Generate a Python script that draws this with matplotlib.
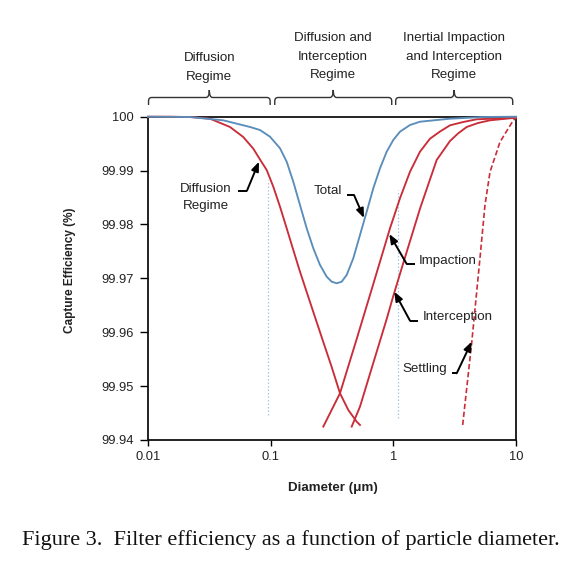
import matplotlib
matplotlib.use('Agg')
import matplotlib.pyplot as plt
from matplotlib import font_manager
from matplotlib.path import Path
from matplotlib.patches import PathPatch
import numpy as np

# ---------------- data ----------------
x_ticks = [0.01, 0.1, 1, 10]
x_tick_labels = ['0.01', '0.1', '1', '10']
y_ticks = [99.94, 99.95, 99.96, 99.97, 99.98, 99.99, 100.0]
y_tick_labels = ['99.94', '99.95', '99.96', '99.97', '99.98', '99.99', '100']

diffusion_d = [0.01, 0.015, 0.022, 0.032, 0.0466, 0.0598, 0.0722, 0.08185, 0.09281,
               0.10505, 0.11914, 0.13509, 0.15291, 0.17339, 0.19665, 0.22262, 0.26853,
               0.31434, 0.36739, 0.42943, 0.50269, 0.53483]
diffusion_eff = [100.0, 100.0, 99.99994, 99.99963, 99.99809, 99.99623, 99.99406, 99.99206,
                 99.99011, 99.98701, 99.98330, 99.97929, 99.97526, 99.97124, 99.96747,
                 99.96376, 99.95819, 99.95355, 99.94867, 99.94557, 99.94340, 99.94279]

total_d = [0.01, 0.022, 0.0411, 0.06785, 0.08185, 0.09874, 0.11914, 0.13509, 0.15291,
           0.17339, 0.19665, 0.22262, 0.25246, 0.28622, 0.31434, 0.34532, 0.37931, 0.41667,
           0.47162, 0.53483, 0.60659, 0.68644, 0.77858, 0.88288, 0.99931, 1.1331, 1.3675,
           1.6495, 2.8968, 5.3815, 10.0]
total_eff = [100.0, 99.99994, 99.99933, 99.99809, 99.99753, 99.99629, 99.99414, 99.99165,
             99.98794, 99.98361, 99.97929, 99.97558, 99.97248, 99.97031, 99.96938, 99.96909,
             99.96938, 99.97063, 99.97372, 99.97805, 99.98237, 99.98671, 99.99042, 99.99351,
             99.99568, 99.99722, 99.99846, 99.99907, 99.99963, 99.99994, 100.0]

impaction_d = [0.26853, 0.36739, 0.50269, 0.64510, 0.77858, 0.93929, 1.1331, 1.3675,
               1.6495, 1.9903, 2.4017, 2.8968, 3.7184, 4.7808, 8.9331, 10.0]
impaction_eff = [99.94248, 99.94867, 99.95875, 99.96691, 99.97309, 99.97929, 99.98486,
                 99.98979, 99.99351, 99.99592, 99.99725, 99.99840, 99.99902, 99.99952,
                 99.99976, 99.9998]

interception_d = [0.45751, 0.53483, 0.68644, 0.88288, 0.99931, 1.2055, 1.4546, 1.6495,
                  1.8707, 2.2570, 2.8968, 3.3658, 3.9628, 4.8989, 6.1376, 9.452, 10.0]
interception_eff = [99.94248, 99.94619, 99.95430, 99.96246, 99.96673, 99.97285, 99.97888,
                    99.98293, 99.98658, 99.99197, 99.99549, 99.99688, 99.99809, 99.99883,
                    99.99933, 99.99976, 99.9998]

settling_d = [3.676, 4.353, 5.087, 5.588, 6.1376, 7.405, 9.506, 10.0]
settling_eff = [99.94279, 99.95801, 99.97378, 99.98361, 99.98974, 99.99531, 99.99933, 99.9998]

guide_d = [0.0946, 1.085]
guide_top = [99.98825, 99.98640]
guide_bottom = [99.94465, 99.94409]

regime_labels = ['Diffusion\nRegime', 'Diffusion and\nInterception\nRegime',
                 'Inertial Impaction\nand Interception\nRegime']
regime_start = [0.0101, 0.108, 1.045]
regime_end = [0.099, 0.97, 9.4]

caption = 'Figure 3.  Filter efficiency as a function of particle diameter.'

# ---------------- style ----------------
names = {f.name for f in font_manager.fontManager.ttflist}
if 'Liberation Sans Narrow' in names:
    sans = 'Liberation Sans Narrow'
    fs = 1.0
else:
    sans = 'Liberation Sans'
    fs = 0.88
plt.rcParams['font.family'] = [sans, 'DejaVu Sans']

RED = '#c92d38'
BLUE = '#5b8dbb'
GUIDE = '#a5c9e4'
TXT = '#222222'

fig = plt.figure(figsize=(5.77, 5.75), dpi=100)
ax = fig.add_axes([148 / 577, 1 - 440 / 575, 368 / 577, 323.3 / 575])

ax.set_xscale('log')
ax.set_xlim(0.01, 10)
ax.set_ylim(99.94, 100.0)

for dx, t, b in zip(guide_d, guide_top, guide_bottom):
    ax.plot([dx, dx], [b, t], color=GUIDE, lw=0.9, ls=(0, (1.2, 1.6)), zorder=1)

lw = 1.35
ax.plot(diffusion_d, diffusion_eff, color=RED, lw=lw, zorder=3, clip_on=False)
ax.plot(impaction_d, impaction_eff, color=RED, lw=lw, zorder=3, clip_on=False)
ax.plot(interception_d, interception_eff, color=RED, lw=lw, zorder=3, clip_on=False)
ax.plot(settling_d, settling_eff, color=RED, lw=1.2, ls=(0, (3.2, 1.6)), zorder=3, clip_on=False)
ax.plot(total_d, total_eff, color=BLUE, lw=lw, zorder=3, clip_on=False)

ax.set_xticks(x_ticks)
ax.set_xticklabels(x_tick_labels)
ax.xaxis.set_minor_locator(matplotlib.ticker.NullLocator())
ax.set_yticks(y_ticks)
ax.set_yticklabels(y_tick_labels)
ax.tick_params(axis='x', direction='out', length=4, width=1, pad=4,
               labelsize=10.5 * fs, colors='black', labelcolor=TXT)
ax.tick_params(axis='y', direction='out', length=5.5, width=1, pad=4.5,
               labelsize=10.5 * fs, colors='black', labelcolor=TXT)
for s in ax.spines.values():
    s.set_linewidth(1.3)
    s.set_color('#111111')

ax.set_ylabel('Capture Efficiency (%)', fontsize=9.6 * fs, fontweight='bold', color=TXT)
ax.yaxis.label.set_va('center')
ax.yaxis.set_label_coords(-0.212, 0.526)
ax.set_xlabel('Diameter (\u03bcm)', fontsize=11 * fs, fontweight='bold', color=TXT)
ax.xaxis.label.set_va('center')
ax.xaxis.set_label_coords(0.5027, -0.1485)


# ---------------- braces + regime labels ----------------
def to_ax(x):
    return (np.log10(x) + 2) / 3.0


yb, ym, yt = 1.0362, 1.0594, 1.0826
rx, ry = 0.009, 0.011
for lab, a, b in zip(regime_labels, regime_start, regime_end):
    xa, xb = to_ax(a), to_ax(b)
    xc = (xa + xb) / 2
    verts = [(xa, yb), (xa, ym - ry), (xa, ym), (xa + rx, ym),
             (xc - rx, ym), (xc, ym), (xc, yt),
             (xc, ym), (xc + rx, ym),
             (xb - rx, ym), (xb, ym), (xb, ym - ry), (xb, yb)]
    codes = [Path.MOVETO, Path.LINETO, Path.CURVE3, Path.CURVE3,
             Path.LINETO, Path.CURVE3, Path.CURVE3,
             Path.CURVE3, Path.CURVE3,
             Path.LINETO, Path.CURVE3, Path.CURVE3, Path.LINETO]
    ax.add_patch(PathPatch(Path(verts, codes), transform=ax.transAxes, fill=False,
                           lw=1.0, edgecolor='#333333', clip_on=False))
    nlines = lab.count('\n') + 1
    ty = 1.1522 if nlines == 2 else 1.1853
    ax.text(xc, ty, lab, transform=ax.transAxes, ha='center', va='center',
            multialignment='center', fontsize=11 * fs, linespacing=1.72, color=TXT)


# ---------------- callouts ----------------
def callout(label, pos, ha, start, elbow, tip):
    ax.text(pos[0], pos[1], label, ha=ha, va='center', multialignment='center',
            fontsize=11 * fs, linespacing=1.65, color=TXT, zorder=5)
    ax.plot([start[0], elbow[0]], [start[1], elbow[1]], color='black', lw=1.4,
            solid_capstyle='butt', zorder=5)
    ax.annotate('', xy=tip, xytext=elbow,
                arrowprops=dict(arrowstyle='-|>,head_length=0.55,head_width=0.22',
                                color='black', lw=1.4, shrinkA=0, shrinkB=0),
                zorder=5)


callout('Diffusion\nRegime', (0.0297, 99.98501), 'center',
        (0.0542, 99.98627), (0.0641, 99.98627), (0.0803, 99.99165))
callout('Total', (0.2934, 99.98627), 'center',
        (0.419, 99.98547), (0.478, 99.98547), (0.5766, 99.98120))
callout('Impaction', (1.598, 99.97328), 'left',
        (1.502, 99.97267), (1.285, 99.97267), (0.927, 99.97823))
callout('Interception', (1.732, 99.96289), 'left',
        (1.598, 99.96214), (1.367, 99.96214), (1.018, 99.96753))
callout('Settling', (2.723, 99.95313), 'right',
        (2.990, 99.95238), (3.286, 99.95238), (4.353, 99.95825))

fig.text(291 / 577, 1 - 540 / 575, caption, ha='center', va='center',
         fontsize=16, family=['Liberation Serif', 'DejaVu Serif'], color='#111111')

fig.savefig('out.png', dpi=100)
